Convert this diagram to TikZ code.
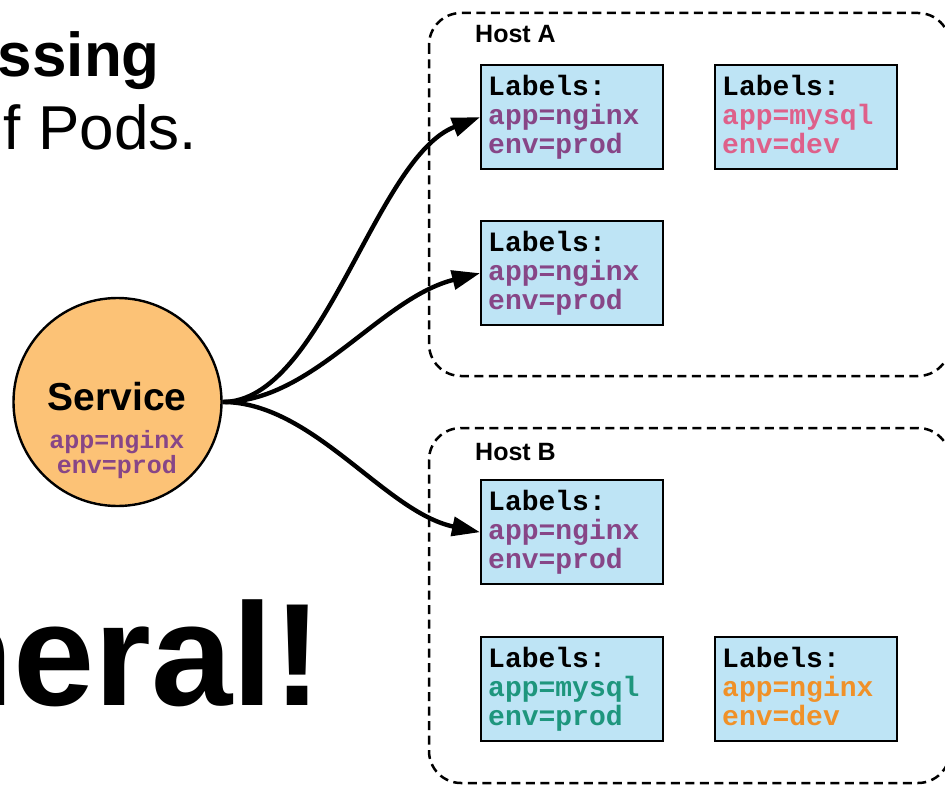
\documentclass[tikz,border=0pt]{standalone}
\usepackage{fontspec}
\setmainfont{Liberation Sans}
\setmonofont{Liberation Mono}
\usetikzlibrary{arrows.meta}
\definecolor{svcfill}{RGB}{252,194,118}
\definecolor{podfill}{RGB}{190,228,245}
\definecolor{lpurple}{RGB}{135,70,135}
\definecolor{lpink}{RGB}{222,96,138}
\definecolor{lgreen}{RGB}{30,150,125}
\definecolor{lorange}{RGB}{240,145,40}
\tikzset{
  pod/.style={draw=black, line width=2.4pt, fill=podfill, anchor=north west,
    minimum width=182pt, minimum height=104pt, text width=168pt, inner xsep=7pt,
    align=left, font={\ttfamily\bfseries\fontsize{28}{29}\selectfont}},
  host/.style={draw=black, line width=2.5pt, dash pattern=on 9pt off 5.5pt, rounded corners=32pt},
  hostlabel/.style={anchor=base west, inner sep=0pt, font={\bfseries\fontsize{25}{25}\selectfont}},
  svclabel/.style={anchor=base, inner sep=0pt, font={\ttfamily\bfseries\fontsize{25}{25}\selectfont}, text=lpurple},
  conn/.style={line width=4.4pt, -{Triangle[length=28pt,width=19pt]}},
  bigtext/.style={anchor=base east, inner sep=0pt}
}
\begin{document}
\begin{tikzpicture}[x=1pt,y=-1pt]
\useasboundingbox (0,0) rectangle (945,794);
% slide text fragments
\node[bigtext, font={\bfseries\fontsize{62}{62}\selectfont}] (t1) at (160,77) {ssing};
\node[bigtext, font={\fontsize{62}{62}\selectfont}] (t2) at (197,150) {f Pods.};
\node[bigtext, font={\bfseries\fontsize{146}{146}\selectfont}] (t3) at (322,705) {neral!};
% hosts
\draw[host] (429,13) rectangle (950,376);
\draw[host] (429,428) rectangle (950,783);
\node[hostlabel] (ha) at (475,43) {Host A};
\node[hostlabel] (hb) at (475,460) {Host B};
% pods
\node[pod] (a1) at (480,64) {Labels:\\\textcolor{lpurple}{app=nginx}\\\textcolor{lpurple}{env=prod}};
\node[pod] (a2) at (714,64) {Labels:\\\textcolor{lpink}{app=mysql}\\\textcolor{lpink}{env=dev\vphantom{p}}};
\node[pod] (a3) at (480,220) {Labels:\\\textcolor{lpurple}{app=nginx}\\\textcolor{lpurple}{env=prod}};
\node[pod] (b1) at (480,479) {Labels:\\\textcolor{lpurple}{app=nginx}\\\textcolor{lpurple}{env=prod}};
\node[pod] (b2) at (480,636) {Labels:\\\textcolor{lgreen}{app=mysql}\\\textcolor{lgreen}{env=prod}};
\node[pod] (b3) at (714,636) {Labels:\\\textcolor{lorange}{app=nginx}\\\textcolor{lorange}{env=dev\vphantom{p}}};
% service
\node[circle, draw=black, line width=2.4pt, fill=svcfill, minimum size=208pt, inner sep=0pt] (svc) at (117.5,402) {};
\node[anchor=base, inner sep=0pt, font={\bfseries\fontsize{39}{39}\selectfont}] (svct) at (117,410) {Service};
\node[svclabel] (svcl1) at (117,448) {app=nginx};
\node[svclabel] (svcl2) at (117,473) {env=prod};
% connectors
\draw[conn] (svc.east) .. controls +(100,0) and +(-105,40) .. (a1.west);
\draw[conn] (svc.east) .. controls +(90,0) and +(-100,25) .. (a3.west);
\draw[conn] (svc.east) .. controls +(90,0) and +(-95,-20) .. (b1.west);
\end{tikzpicture}
\end{document}
